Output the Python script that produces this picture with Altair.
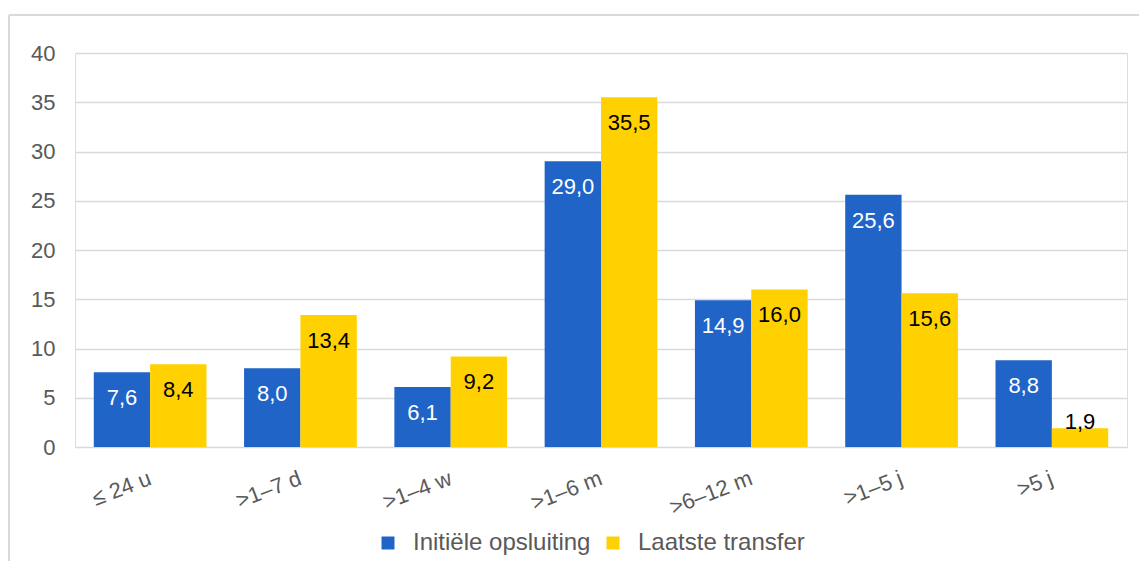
import altair as alt
import pandas as pd

categories = ["≤ 24 u", ">1–7 d", ">1–4 w", ">1–6 m", ">6–12 m", ">1–5 j", ">5 j"]
series_names = ["Initiële opsluiting", "Laatste transfer"]
initiele = [7.6, 8.0, 6.1, 29.0, 14.9, 25.6, 8.8]
laatste = [8.4, 13.4, 9.2, 35.5, 16.0, 15.6, 1.9]
y_ticks = [0, 5, 10, 15, 20, 25, 30, 35, 40]

rows = []
for c, a, b in zip(categories, initiele, laatste):
    rows.append({"cat": c, "series": series_names[0], "value": a})
    rows.append({"cat": c, "series": series_names[1], "value": b})
df = pd.DataFrame(rows)

FONT = "Liberation Sans"
W, H = 1052, 394

x_enc = alt.X("cat:N", sort=categories, title=None,
              scale=alt.Scale(paddingInner=0.25, paddingOuter=0.125),
              axis=alt.Axis(labelAngle=-21, labelAlign="right", labelBaseline="middle",
                            labelPadding=30, ticks=False, domain=False, grid=False,
                            labelFontSize=22, labelColor="#595959", labelFont=FONT))
xoff = alt.XOffset("series:N", sort=series_names, scale=alt.Scale(paddingInner=0, paddingOuter=0))

base = alt.Chart(df)

bars = base.mark_bar().encode(
    x=x_enc,
    xOffset=xoff,
    y=alt.Y("value:Q", title=None,
            scale=alt.Scale(domain=[0, 40], nice=False),
            axis=alt.Axis(values=y_ticks, domain=False, ticks=False, labelPadding=20,
                          gridColor="#d9d9d9", gridWidth=1.5,
                          labelFontSize=22, labelColor="#595959", labelFont=FONT)),
    color=alt.Color("series:N", sort=series_names,
                    scale=alt.Scale(domain=series_names, range=["#2064C8", "#FFD100"]),
                    legend=alt.Legend(title=None, orient="none", legendX=301, legendY=478,
                                      direction="horizontal", symbolType="square",
                                      symbolSize=169, symbolStrokeWidth=0, labelOffset=13,
                                      columnPadding=10, padding=0, labelLimit=0,
                                      labelFontSize=24, labelColor="#595959", labelFont=FONT)),
)

labels = base.transform_calculate(
    label="replace(format(datum.value, '.1f'), '.', ',')",
    ly="datum.value < 4 ? datum.value + 3.3 : datum.value",
).mark_text(baseline="middle", dy=26, fontSize=22, font=FONT).encode(
    x=alt.X("cat:N", sort=categories),
    xOffset=xoff,
    y=alt.Y("ly:Q"),
    text="label:N",
    color=alt.condition(
        "datum.series == 'Initiële opsluiting' && datum.value >= 4",
        alt.value("white"), alt.value("black")),
)

frame_left = alt.Chart(pd.DataFrame({"k": [0]})).mark_rule(color="#d9d9d9", strokeWidth=2).encode(
    x=alt.value(-66), y=alt.value(-38), y2=alt.value(H + 114))
frame_top = alt.Chart(pd.DataFrame({"k": [0]})).mark_rule(color="#d9d9d9", strokeWidth=2).encode(
    x=alt.value(-66), x2=alt.value(W + 12), y=alt.value(-38))

chart = alt.layer(bars, labels, frame_left, frame_top).properties(
    width=W, height=H,
    autosize=alt.AutoSizeParams(type="none"),
    padding={"left": 67, "top": 45, "right": 12, "bottom": 114},
).configure_view(stroke=None).configure(font=FONT)

chart.save("out.html", embed_options={"renderer": "svg", "actions": False})
